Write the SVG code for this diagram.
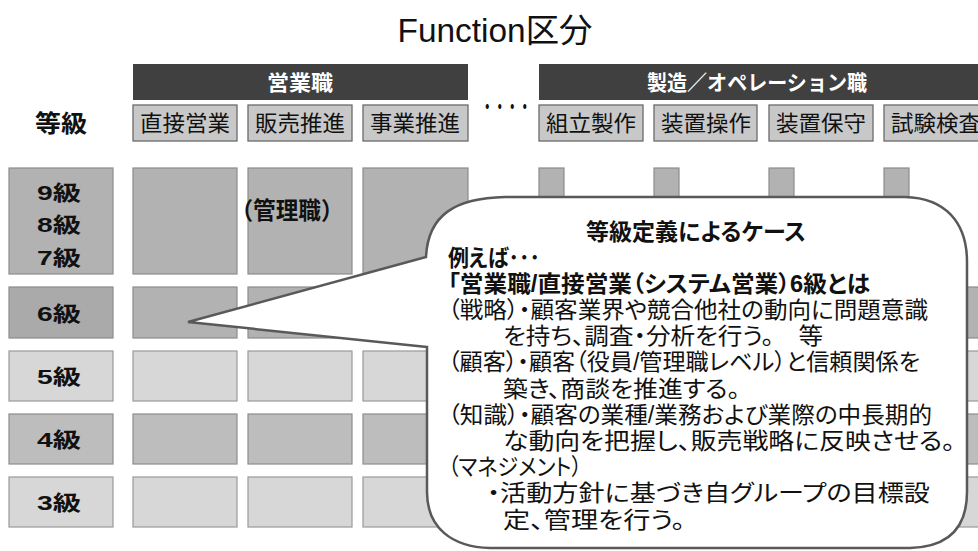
<svg xmlns="http://www.w3.org/2000/svg" width="978" height="551" viewBox="0 0 978 551">
<style>
text{font-family:"Liberation Sans","Noto Sans CJK JP",sans-serif;fill:#111}
.ttl{font-size:33px}
.bar{fill:#404040}
.bart{font-size:21px;font-weight:bold;fill:#fff;text-anchor:middle}
.sub{fill:#c8c8c8;stroke:#6a6a6a;stroke-width:1.3}
.subt{font-size:22px;text-anchor:middle}
.lvl{font-size:21px;font-weight:bold;text-anchor:middle}
.d1{fill:#b2b2b2;stroke:#8c8c8c;stroke-width:1.2}
.d2{fill:#bdbdbd;stroke:#8c8c8c;stroke-width:1.2}
.lt{fill:#d7d7d7;stroke:#999;stroke-width:1.2}
.lab6{fill:#aaaaaa;stroke:#8c8c8c;stroke-width:1.2}
.call{fill:#fff;stroke:#595959;stroke-width:2.5;stroke-linejoin:miter}
.ct{font-size:23px;font-feature-settings:"palt"}
.cb{font-size:23px;font-weight:bold;font-feature-settings:"palt"}
</style>

<text class="ttl" x="495" y="42" text-anchor="middle" textLength="195" lengthAdjust="spacingAndGlyphs">Function区分</text>

<g id="header-sales">
<rect class="bar" x="133" y="64" width="335" height="36"/>
<text class="bart" x="300" y="90" textLength="66" lengthAdjust="spacingAndGlyphs">営業職</text>
</g>
<g id="header-mfg">
<rect class="bar" x="539" y="64" width="450" height="36"/>
<text class="bart" x="757" y="90" textLength="220" lengthAdjust="spacingAndGlyphs">製造／オペレーション職</text>
</g>

<g id="sub-chokusetsu"><rect class="sub" x="133" y="105" width="104" height="36"/><text class="subt" x="185" y="131" textLength="90" lengthAdjust="spacingAndGlyphs">直接営業</text></g>
<g id="sub-hanbai"><rect class="sub" x="248" y="105" width="104" height="36"/><text class="subt" x="300" y="131" textLength="90" lengthAdjust="spacingAndGlyphs">販売推進</text></g>
<g id="sub-jigyo"><rect class="sub" x="363" y="105" width="105" height="36"/><text class="subt" x="415" y="131" textLength="90" lengthAdjust="spacingAndGlyphs">事業推進</text></g>
<g id="dots"><text x="481" y="114" font-size="20" font-weight="bold" textLength="50" lengthAdjust="spacingAndGlyphs">・・・・</text></g>
<g id="sub-kumitate"><rect class="sub" x="539" y="105" width="104" height="36"/><text class="subt" x="591" y="131" textLength="90" lengthAdjust="spacingAndGlyphs">組立製作</text></g>
<g id="sub-sousa"><rect class="sub" x="654" y="105" width="103" height="36"/><text class="subt" x="706" y="131" textLength="90" lengthAdjust="spacingAndGlyphs">装置操作</text></g>
<g id="sub-hoshu"><rect class="sub" x="769" y="105" width="104" height="36"/><text class="subt" x="821" y="131" textLength="90" lengthAdjust="spacingAndGlyphs">装置保守</text></g>
<g id="sub-shiken"><rect class="sub" x="884" y="105" width="104" height="36"/><text class="subt" x="936" y="131" textLength="90" lengthAdjust="spacingAndGlyphs">試験検査</text></g>

<g id="label-tokyu"><text x="61" y="132" font-size="24" font-weight="bold" text-anchor="middle" textLength="52" lengthAdjust="spacingAndGlyphs">等級</text></g>

<g id="row-987">
<rect class="d1" x="9" y="168" width="104" height="106"/>
<text class="lvl" x="59" y="200" textLength="44" lengthAdjust="spacingAndGlyphs">9級</text>
<text class="lvl" x="59" y="232" textLength="44" lengthAdjust="spacingAndGlyphs">8級</text>
<text class="lvl" x="59" y="265" textLength="44" lengthAdjust="spacingAndGlyphs">7級</text>
<rect class="d1" x="133" y="168" width="104" height="106"/>
<rect class="d1" x="248" y="168" width="104" height="106"/>
<rect class="d1" x="363" y="168" width="105" height="106"/>
<rect class="d1" x="539" y="168" width="25" height="106"/>
<rect class="d1" x="654" y="168" width="25" height="106"/>
<rect class="d1" x="769" y="168" width="25" height="106"/>
<rect class="d1" x="884" y="168" width="25" height="106"/>
<text x="287" y="219" font-size="24" font-weight="bold" text-anchor="middle" textLength="113" lengthAdjust="spacingAndGlyphs">（管理職）</text>
</g>

<g id="row-6">
<rect class="lab6" x="9" y="287" width="104" height="51"/>
<text class="lvl" x="59" y="321" textLength="44" lengthAdjust="spacingAndGlyphs">6級</text>
<rect class="d1" x="133" y="287" width="104" height="51"/>
<rect class="d1" x="248" y="287" width="104" height="51"/>
<rect class="d1" x="363" y="287" width="105" height="51"/>
<rect class="d1" x="884" y="287" width="104" height="51"/>
</g>
<g id="row-5">
<rect class="lt" x="9" y="351" width="104" height="50"/>
<text class="lvl" x="59" y="384" textLength="44" lengthAdjust="spacingAndGlyphs">5級</text>
<rect class="lt" x="133" y="351" width="104" height="50"/>
<rect class="lt" x="248" y="351" width="104" height="50"/>
<rect class="lt" x="363" y="351" width="105" height="50"/>
<rect class="lt" x="884" y="351" width="104" height="50"/>
</g>
<g id="row-4">
<rect class="d2" x="9" y="414" width="104" height="50"/>
<text class="lvl" x="59" y="447" textLength="44" lengthAdjust="spacingAndGlyphs">4級</text>
<rect class="d2" x="133" y="414" width="104" height="50"/>
<rect class="d2" x="248" y="414" width="104" height="50"/>
<rect class="d2" x="363" y="414" width="105" height="50"/>
<rect class="d2" x="884" y="414" width="104" height="50"/>
</g>
<g id="row-3">
<rect class="lt" x="9" y="477" width="104" height="50"/>
<text class="lvl" x="59" y="510" textLength="44" lengthAdjust="spacingAndGlyphs">3級</text>
<rect class="lt" x="133" y="477" width="104" height="50"/>
<rect class="lt" x="248" y="477" width="104" height="50"/>
<rect class="lt" x="363" y="477" width="105" height="50"/>
<rect class="lt" x="884" y="477" width="104" height="50"/>
</g>

<g id="callout">
<path class="call" d="M427 347 L188 322 L426 257 C428 215 455 198 505 197 L905 197 C945 198 967 222 967 262 L967 492 C967 528 948 547 910 548 L490 548 C452 547 427 528 427 492 Z"/>
<text class="cb" x="696" y="240" text-anchor="middle" textLength="220" lengthAdjust="spacingAndGlyphs">等級定義によるケース</text>
<text class="cb" x="448" y="266" textLength="92" lengthAdjust="spacingAndGlyphs">例えば･･･</text>
<text class="cb" x="448" y="292" textLength="422" lengthAdjust="spacingAndGlyphs">「営業職/直接営業（システム営業）6級とは</text>
<text class="ct" x="448" y="318" textLength="480" lengthAdjust="spacingAndGlyphs">（戦略）・顧客業界や競合他社の動向に問題意識</text>
<text class="ct" x="503" y="344" textLength="320" lengthAdjust="spacingAndGlyphs">を持ち、調査・分析を行う。　等</text>
<text class="ct" x="448" y="370" textLength="472" lengthAdjust="spacingAndGlyphs">（顧客）・顧客（役員/管理職レベル）と信頼関係を</text>
<text class="ct" x="503" y="397" textLength="237" lengthAdjust="spacingAndGlyphs">築き、商談を推進する。</text>
<text class="ct" x="448" y="423" textLength="484" lengthAdjust="spacingAndGlyphs">（知識）・顧客の業種/業務および業際の中長期的</text>
<text class="ct" x="503" y="449" textLength="452" lengthAdjust="spacingAndGlyphs">な動向を把握し、販売戦略に反映させる。</text>
<text class="ct" x="448" y="475" textLength="134" lengthAdjust="spacingAndGlyphs">（マネジメント）</text>
<text class="ct" x="487" y="501" textLength="443" lengthAdjust="spacingAndGlyphs">・活動方針に基づき自グループの目標設</text>
<text class="ct" x="503" y="528" textLength="182" lengthAdjust="spacingAndGlyphs">定、管理を行う。</text>
</g>
</svg>
